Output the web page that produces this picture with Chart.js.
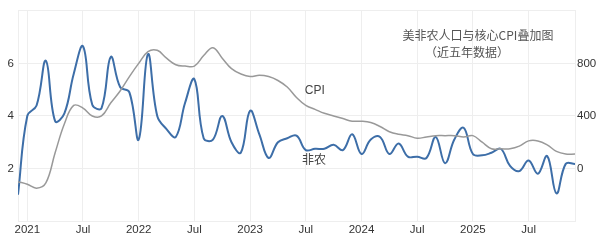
<!DOCTYPE html>
<html>
<head>
<meta charset="utf-8">
<script src="https://cdn.jsdelivr.net/npm/chart.js@4"></script>
<style>
  html, body { margin: 0; padding: 0; background: #fff; }
  #wrap { width: 601px; height: 244px; position: relative; }
</style>
</head>
<body>
<div id="wrap"><canvas id="my-chart" width="601" height="244"></canvas></div>
<script>
// months counted from Jan 2021 (= 0), Dec 2020 .. Dec 2025
const months = [];
for (let m = -1; m <= 59; m++) months.push(m);

// core CPI, % y/y (left axis)
const cpi = [1.5, 1.4, 1.25, 1.45, 2.6, 3.7, 4.4, 4.3, 4.0, 4.0, 4.5, 4.95, 5.5,
  6.0, 6.45, 6.5, 6.2, 5.95, 5.9, 5.9, 6.3, 6.6, 6.2, 5.8, 5.6,
  5.5, 5.55, 5.5, 5.35, 5.1, 4.7, 4.4, 4.25, 4.1, 4.0, 3.9, 3.8,
  3.8, 3.75, 3.6, 3.4, 3.3, 3.25, 3.15, 3.2, 3.25, 3.25, 3.25, 3.2,
  3.25, 3.0, 2.75, 2.75, 2.75, 2.85, 3.05, 3.05, 2.9, 2.65, 2.55, 2.55];

// nonfarm payrolls change, thousands (right axis)
const nfp = [-200, 400, 480, 820, 360, 420, 720, 930, 485, 460, 850, 620, 580,
  220, 870, 400, 300, 240, 500, 680, 230, 220, 400, 200, 120,
  440, 260, 80, 200, 230, 250, 140, 150, 150, 180, 140, 260,
  110, 220, 240, 110, 190, 90, 90, 80, 240, 40, 220, 310,
  110, 100, 120, 150, 20, -20, 60, -40, 95, -190, 35, 35];

const xTicks = [0, 6, 12, 18, 24, 30, 36, 42, 48, 54];
const leftTicks = [2, 4, 6];
const rightTicks = [0, 400, 800];

const FONT = "'Liberation Sans', 'Noto Sans CJK SC', sans-serif";
const CJK = "'Noto Sans CJK SC', 'Liberation Sans', sans-serif";

const textPlugin = {
  id: 'notes',
  afterDatasetsDraw(chart) {
    const ctx = chart.ctx, x = chart.scales.x, y = chart.scales.y, a = chart.chartArea;
    ctx.save();
    ctx.fillStyle = '#444';
    ctx.textBaseline = 'middle';
    ctx.textAlign = 'left';
    ctx.font = '12px ' + FONT;
    ctx.fillText('CPI', x.getPixelForValue(29.9), y.getPixelForValue(4.97));
    ctx.font = '12px ' + CJK;
    ctx.fillText('非农', x.getPixelForValue(29.6), y.getPixelForValue(2.36));
    ctx.fillStyle = '#555';
    ctx.textAlign = 'center';
    ctx.fillText('美非农人口与核心CPI叠加图', a.right - 97, a.top + 25);
    ctx.fillText('（近五年数据）', a.right - 108, a.top + 42);
    ctx.restore();
  }
};

new Chart(document.getElementById('my-chart'), {
  type: 'line',
  data: {
    labels: months,
    datasets: [{
      label: 'CPI',
      data: months.map((m, i) => ({ x: m, y: cpi[i] })),
      borderColor: '#999',
      borderWidth: 1.5,
      pointRadius: 0,
      tension: 0.4,
      yAxisID: 'y'
    }, {
      label: '非农',
      data: months.map((m, i) => ({ x: m, y: nfp[i] })),
      borderColor: '#3d6ea8',
      borderWidth: 2,
      pointRadius: 0,
      tension: 0.4,
      yAxisID: 'y1'
    }]
  },
  options: {
    responsive: false,
    animation: false,
    layout: { padding: { top: 6 } },
    plugins: { legend: { display: false }, tooltip: { enabled: false } },
    scales: {
      x: {
        type: 'linear',
        min: -1, max: 59,
        afterBuildTicks: s => { s.ticks = xTicks.map(v => ({ value: v })); },
        afterFit: s => { s.height = 23; },
        grid: { color: '#eeeeee', drawTicks: false },
        border: { display: false },
        ticks: {
          padding: 2, maxRotation: 0, autoSkip: false, color: '#333',
          font: { family: FONT, size: 11.5 },
          callback: v => (v % 12 === 0 ? String(2021 + v / 12) : 'Jul')
        }
      },
      y: {
        position: 'left',
        min: 0, max: 8,
        afterBuildTicks: s => { s.ticks = [0, 2, 4, 6, 8].map(v => ({ value: v })); },
        afterFit: s => { s.width = 18; },
        grid: { color: '#eeeeee', drawTicks: false },
        border: { color: '#eeeeee' },
        ticks: {
          padding: 4, color: '#333',
          font: { family: FONT, size: 11.5 },
          callback: v => (leftTicks.includes(v) ? String(v) : '')
        }
      },
      y1: {
        position: 'right',
        min: -400, max: 1200,
        afterBuildTicks: s => { s.ticks = rightTicks.map(v => ({ value: v })); },
        afterFit: s => { s.width = 26; },
        grid: { display: false, drawTicks: false },
        border: { color: '#eeeeee' },
        ticks: {
          padding: 2, color: '#333',
          font: { family: FONT, size: 11.5 }
        }
      }
    }
  },
  plugins: [textPlugin]
});
</script>
</body>
</html>
